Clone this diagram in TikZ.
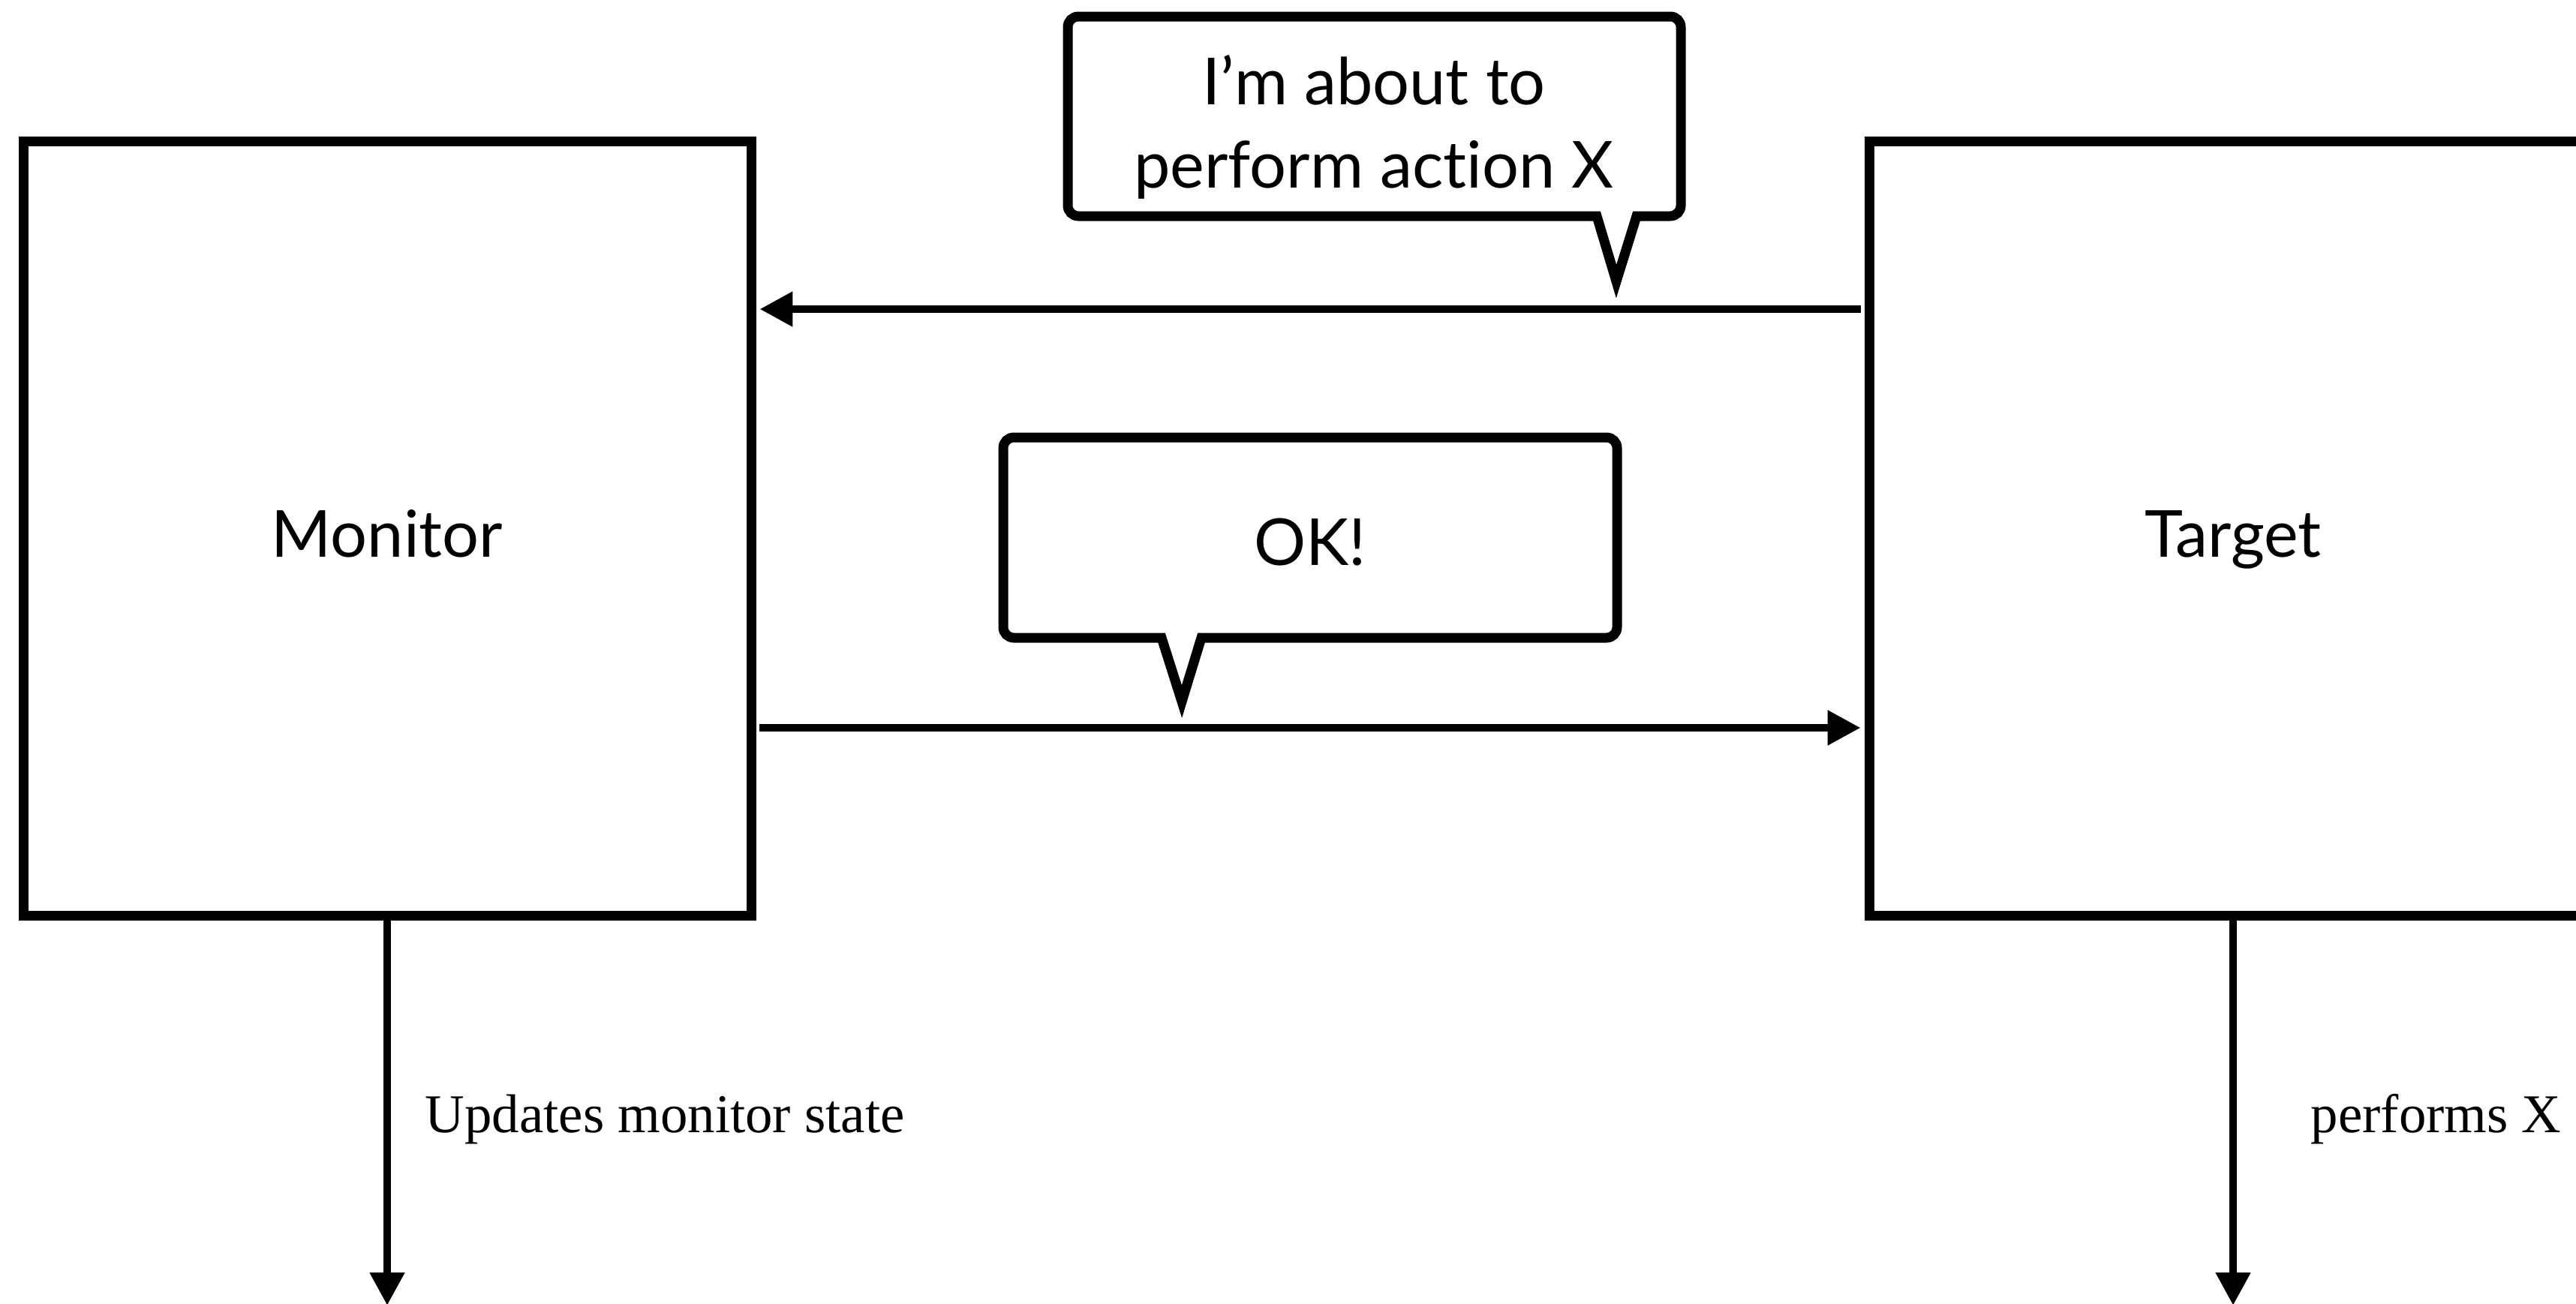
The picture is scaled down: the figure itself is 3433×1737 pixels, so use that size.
\documentclass[tikz,border=0pt]{standalone}
\usepackage{fontspec}
\setmainfont{Liberation Serif}
\newfontfamily\labsans{Lato}[Ligatures={NoCommon,NoDiscretionary,NoRare}]
\usetikzlibrary{arrows.meta}
\begin{document}
\begin{tikzpicture}[x=0.25pt,y=-0.25pt,
  boxnode/.style={draw, line width=3.25pt, minimum width=242.5pt, minimum height=258pt,
    inner sep=0pt, font=\labsans\fontsize{21.6}{26}\selectfont, text height=19pt, text depth=0pt},
  arr/.style={line width=2.7pt, -{Triangle[length=11pt,width=11pt]}},
  bubble/.style={draw, line width=3.25pt, line join=miter, miter limit=10},
  bubtext/.style={inner sep=0pt, font=\labsans\fontsize{21.6}{27.75}\selectfont, align=center},
  sidelabel/.style={inner sep=0pt, anchor=base west, font=\fontsize{18.2}{22}\selectfont}]
\useasboundingbox (0,0) rectangle (3433,1737);
\clip (0,0) rectangle (3433,1737);

% boxes
\node[boxnode] (Monitor) at (516,704) {Monitor};
\node[boxnode] (Target) at (2976,704) {Target};

% speech bubble 1
\draw[bubble] (2128,288) -- (2154,375) -- (2181,288) -- (2226,288)
  arc[start angle=90, end angle=0, radius=14] -- (2240,36)
  arc[start angle=0, end angle=-90, radius=14] -- (1437,22)
  arc[start angle=-90, end angle=-180, radius=14] -- (1423,274)
  arc[start angle=180, end angle=90, radius=14] -- cycle;
\node[bubtext] (msg1) at (1831,169) {I’m about to\\perform action X};

% speech bubble 2
\draw[bubble] (1548,850) -- (1575,935) -- (1601,850) -- (2141,850)
  arc[start angle=90, end angle=0, radius=14] -- (2155,597)
  arc[start angle=0, end angle=-90, radius=14] -- (1351,583)
  arc[start angle=-90, end angle=-180, radius=14] -- (1337,836)
  arc[start angle=180, end angle=90, radius=14] -- cycle;
\node[bubtext] (msg2) at (1746,723) {OK!};

% horizontal connectors
\coordinate (yTop) at (0,412);
\coordinate (yBot) at (0,970);
\draw[arr, shorten <=1.2pt, shorten >=1.2pt] (Target.west |- yTop) -- (Monitor.east |- yTop);
\draw[arr, shorten <=1.1pt, shorten >=1.2pt] (Monitor.east |- yBot) -- (Target.west |- yBot);

% vertical connectors
\coordinate (mEnd) at (516,1740);
\coordinate (tEnd) at (2976,1740);
\draw[arr] (Monitor.south) -- (mEnd);
\draw[arr] (Target.south) -- (tEnd);

% side labels
\node[sidelabel] (lblM) at (566,1509) {Updates monitor state};
\node[sidelabel] (lblT) at (3079,1509) {performs X};
\end{tikzpicture}
\end{document}
